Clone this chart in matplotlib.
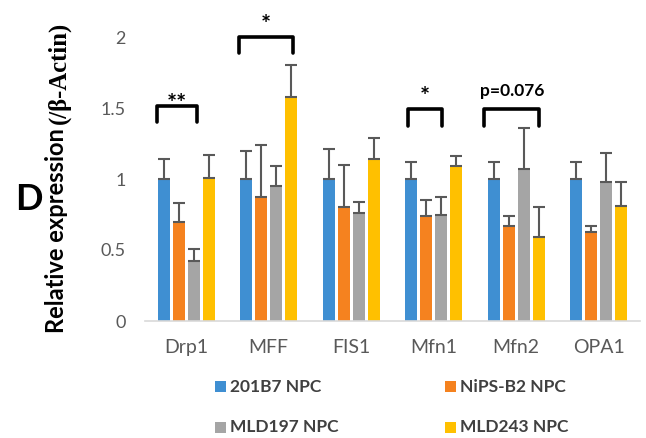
import matplotlib
matplotlib.use("Agg")
import matplotlib.pyplot as plt
from matplotlib.patches import Rectangle
import numpy as np

genes = ["Drp1", "MFF", "FIS1", "Mfn1", "Mfn2", "OPA1"]
series = ["201B7 NPC", "NiPS-B2 NPC", "MLD197 NPC", "MLD243 NPC"]
colors = ["#3F8FD2", "#F5821F", "#A5A5A5", "#FFC000"]

v_201b7 = [1.00, 1.00, 1.00, 1.00, 1.00, 1.00]
v_nips = [0.70, 0.87, 0.80, 0.74, 0.67, 0.63]
v_mld197 = [0.42, 0.95, 0.76, 0.75, 1.07, 0.98]
v_mld243 = [1.01, 1.58, 1.14, 1.09, 0.59, 0.81]

e_201b7 = [0.14, 0.20, 0.21, 0.12, 0.12, 0.12]
e_nips = [0.13, 0.37, 0.30, 0.11, 0.07, 0.04]
e_mld197 = [0.09, 0.14, 0.08, 0.12, 0.29, 0.20]
e_mld243 = [0.16, 0.22, 0.15, 0.07, 0.21, 0.17]

values = [v_201b7, v_nips, v_mld197, v_mld243]
errors = [e_201b7, e_nips, e_mld197, e_mld243]

# significance brackets
sig_gene = [0, 1, 3, 4]
sig_left = [-0.36, -0.36, -0.315, -0.39]
sig_right = [0.13, 0.29, 0.10, 0.28]
sig_bottom = [1.40, 1.89, 1.37, 1.37]
sig_top = [1.515, 2.00, 1.495, 1.495]
sig_label = ["**", "*", "*", "p=0.076"]
sig_offset = [-0.07, 0.0, 0.0, 0.07]

W, H = 646, 438
fig = plt.figure(figsize=(W / 100, H / 100), dpi=100)
ax = fig.add_axes([145 / W, 1 - 321 / H, 495 / W, 284 / H])

FONT = "Lato"
x = np.arange(len(genes))
step = 15 / 82.5
width = 12 / 82.5
for i, (vals, errs) in enumerate(zip(values, errors)):
    pos = x + (i - 1.5) * step
    ax.bar(pos, vals, width, color=colors[i], label=series[i], zorder=2)
    ax.errorbar(pos, vals, yerr=[np.zeros(len(errs)), errs], fmt="none",
                ecolor="#595959", elinewidth=1.5, capsize=4, capthick=1.5, zorder=3)

for g, l, r, b0, t0, lab, off in zip(sig_gene, sig_left, sig_right, sig_bottom,
                                     sig_top, sig_label, sig_offset):
    xs = [g + l, g + l, g + r, g + r]
    ys = [b0, t0, t0, b0]
    ax.plot(xs, ys, color="black", lw=2.6, solid_joinstyle="round",
            solid_capstyle="round", clip_on=False, zorder=4)
    fs = 12.5 if lab.startswith("p") else 17
    ax.text(g + (l + r) / 2, t0 + off, lab, ha="center", va="bottom",
            fontsize=fs, fontweight="bold", family=FONT, clip_on=False)

ax.set_xlim(-0.5, 5.5)
ax.set_ylim(0, 2)
ax.set_yticks([0, 0.5, 1, 1.5, 2])
ax.set_yticklabels(["0", "0.5", "1", "1.5", "2"])
ax.set_xticks(x)
ax.set_xticklabels(genes)
for lab in ax.get_xticklabels() + ax.get_yticklabels():
    lab.set_family(FONT)
    lab.set_color("#595959")
for lab in ax.get_xticklabels():
    lab.set_fontsize(14)
for lab in ax.get_yticklabels():
    lab.set_fontsize(13)
ax.tick_params(axis="both", length=0)
ax.tick_params(axis="y", pad=14)
ax.tick_params(axis="x", pad=13)
for s in ["top", "right", "left"]:
    ax.spines[s].set_visible(False)
ax.spines["bottom"].set_color("#D9D9D9")
ax.spines["bottom"].set_linewidth(1.2)

# legend, laid out as in the reference (2 x 2)
leg_order = [0, 1, 2, 3]
leg_x = [215, 445, 215, 445]
leg_y = [386.5, 386.5, 427, 427]
sq = 11
for k, lx, ly in zip(leg_order, leg_x, leg_y):
    fig.patches.append(Rectangle((lx / W, 1 - (ly + sq / 2) / H), sq / W, sq / H,
                                 transform=fig.transFigure, facecolor=colors[k],
                                 edgecolor="none"))
    fig.text((lx + sq + 4) / W, 1 - ly / H, series[k], ha="left", va="center",
             fontsize=12.5, fontweight="bold", family=FONT, color="#404040")

fig.text(29 / W, 1 - 199 / H, "D", fontsize=26, fontweight="bold", family=FONT,
         ha="center", va="center")

# y label in two fonts, sized to the reference lengths
renderer = fig.canvas.get_renderer()
xc = 57 / W
t1 = fig.text(xc, 1 - 333 / H, "Relative expression", rotation=90,
              ha="center", va="bottom", fontsize=15, fontweight="bold",
              family=FONT)
bb = t1.get_window_extent(renderer)
t1.set_fontsize(15 * 206 / bb.height)
bb = t1.get_window_extent(renderer)
ytop = bb.y1 / H
t2 = fig.text(xc + 2 / W, ytop + 4 / H, "(/\u03b2-Actin)", rotation=90, ha="center",
              va="bottom", fontsize=14, fontweight="bold", family="Liberation Serif")
bb2 = t2.get_window_extent(renderer)
t2.set_fontsize(14 * 103 / bb2.height)

fig.savefig("out.png", dpi=100)
